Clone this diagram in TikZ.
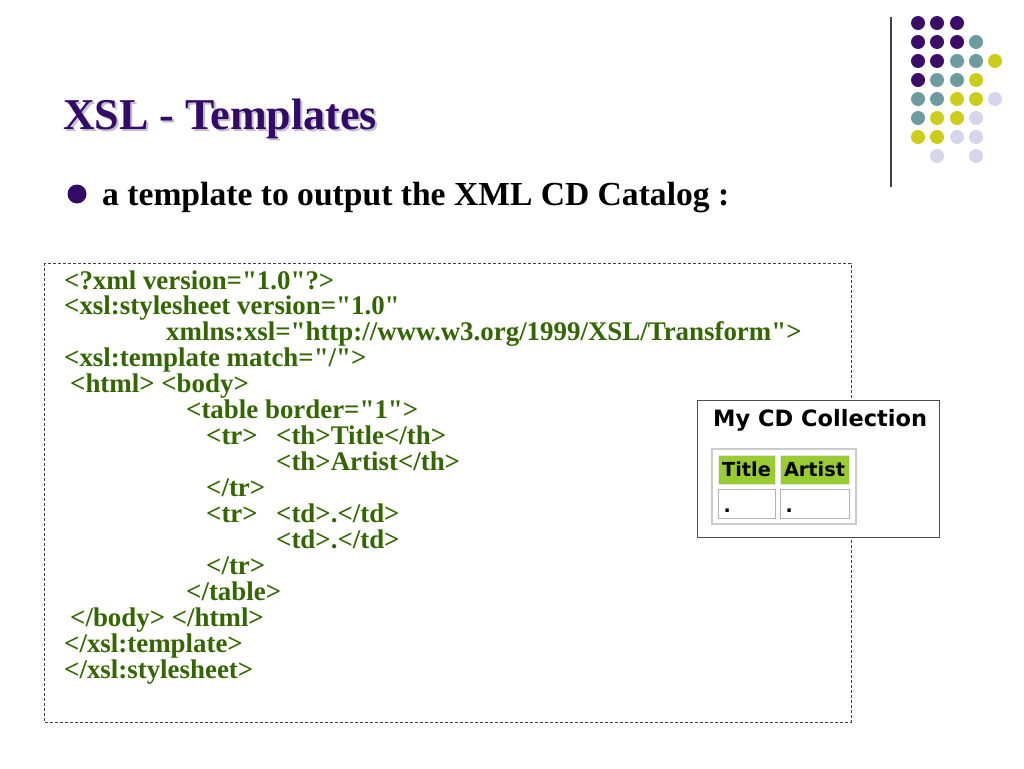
\documentclass[tikz,border=0pt]{standalone}
\usepackage{fontspec}
\setmainfont{Liberation Serif}[Ligatures=TeXOff]
\newfontfamily\shotfont{DejaVu Sans}

\definecolor{slidepurple}{RGB}{51,10,102}
\definecolor{codegreen}{RGB}{51,102,0}
\definecolor{dotpurple}{RGB}{60,12,105}
\definecolor{dotteal}{RGB}{108,156,160}
\definecolor{dotyellow}{RGB}{204,204,26}
\definecolor{dotlilac}{RGB}{214,214,234}
\definecolor{cellgreen}{RGB}{153,204,51}
\definecolor{shadowgray}{RGB}{190,190,205}

\tikzset{
  codeline/.style={anchor=base west, inner sep=0pt, text=codegreen,
    font=\fontsize{26.9}{26}\bfseries},
  titletext/.style={anchor=base west, inner sep=0pt,
    font=\fontsize{44}{48}\bfseries},
  dashbox/.style={draw=black!75, line width=0.8pt, dash pattern=on 3pt off 2pt},
  shotframe/.style={draw=black!70, fill=white, line width=1pt},
  headcell/.style={fill=cellgreen, draw=black!10, line width=1pt, inner sep=0pt,
    minimum width=#1, minimum height=29pt, text=black,
    font={\shotfont\bfseries\fontsize{19.3}{22}\selectfont}},
  datacell/.style={fill=white, draw=black!30, line width=1pt, inner sep=0pt,
    minimum width=#1, minimum height=29pt}
}

\begin{document}
\begin{tikzpicture}[x=1pt,y=-1pt]
\useasboundingbox (0,0) rectangle (1024,768);
\fill [white] (0,0) rectangle (1024,768);
% corner dots
\draw [black!75, line width=1.5pt] (891,17) -- (891,187);
\fill [dotpurple] (918,23) circle (7);
\fill [dotpurple] (937,23) circle (7);
\fill [dotpurple] (957,23) circle (7);
\fill [dotpurple] (918,42) circle (7);
\fill [dotpurple] (937,42) circle (7);
\fill [dotpurple] (957,42) circle (7);
\fill [dotteal] (976,42) circle (7);
\fill [dotpurple] (918,61) circle (7);
\fill [dotpurple] (937,61) circle (7);
\fill [dotteal] (957,61) circle (7);
\fill [dotteal] (976,61) circle (7);
\fill [dotyellow] (995,61) circle (7);
\fill [dotpurple] (918,80) circle (7);
\fill [dotteal] (937,80) circle (7);
\fill [dotteal] (957,80) circle (7);
\fill [dotyellow] (976,80) circle (7);
\fill [dotteal] (918,99) circle (7);
\fill [dotteal] (937,99) circle (7);
\fill [dotyellow] (957,99) circle (7);
\fill [dotyellow] (976,99) circle (7);
\fill [dotlilac] (995,99) circle (7);
\fill [dotteal] (918,118) circle (7);
\fill [dotyellow] (937,118) circle (7);
\fill [dotyellow] (957,118) circle (7);
\fill [dotlilac] (976,118) circle (7);
\fill [dotyellow] (918,137) circle (7);
\fill [dotyellow] (937,137) circle (7);
\fill [dotlilac] (957,137) circle (7);
\fill [dotlilac] (976,137) circle (7);
\fill [dotlilac] (937,156) circle (7);
\fill [dotlilac] (976,156) circle (7);
% title and bullet
\node [titletext, text=shadowgray] (titleshadow) at (65,131) {XSL - Templates};
\node [titletext, text=slidepurple] (title) at (63,129) {XSL - Templates};
\fill [slidepurple] (77,194) circle (9.5);
\node [anchor=base west, inner sep=0pt, font=\fontsize{33.6}{36}\bfseries] (bullet) at (102,205) {a template to output the XML CD Catalog :};
% code box
\draw [dashbox] (44,263) rectangle (851,722);
\node [codeline] (l1) at (64,289) {<?xml version="1.0"?>};
\node [codeline] (l2) at (64,314.9) {<xsl:stylesheet version="1.0"};
\node [codeline] (l3) at (166,340.9) {xmlns:xsl="http://www.w3.org/1999/XSL/Transform">};
\node [codeline] (l4) at (64,366.8) {<xsl:template match="/">};
\node [codeline] (l5) at (70,392.7) {<html> <body>};
\node [codeline] (l6) at (186,418.7) {<table border="1">};
\node [codeline] (l7a) at (206,444.6) {<tr>};
\node [codeline] (l7b) at (276,444.6) {<th>Title</th>};
\node [codeline] (l8) at (276,470.5) {<th>Artist</th>};
\node [codeline] (l9) at (206,496.4) {</tr>};
\node [codeline] (l10a) at (206,522.4) {<tr>};
\node [codeline] (l10b) at (276,522.4) {<td>.</td>};
\node [codeline] (l11) at (276,548.3) {<td>.</td>};
\node [codeline] (l12) at (206,574.2) {</tr>};
\node [codeline] (l13) at (186,600.2) {</table>};
\node [codeline] (l14) at (70,626.1) {</body> </html>};
\node [codeline] (l15) at (64,652) {</xsl:template>};
\node [codeline] (l16) at (64,678) {</xsl:stylesheet>};
% browser output
\draw [shotframe] (697,400) rectangle (939,537);
\node [anchor=base west, inner sep=0pt, font={\shotfont\bfseries\fontsize{22.5}{26}\selectfont}] (shottitle) at (713,426) {My CD Collection};
\draw [black!20, line width=2pt] (712,449) rectangle (856,524);
\node [headcell=57pt] (thtitle) at (746.5,469.5) {Title};
\node [headcell=69pt] (thartist) at (814.5,469.5) {Artist};
\node [datacell=57pt] (tdtitle) at (746.5,503.5) {};
\node [datacell=69pt] (tdartist) at (814.5,503.5) {};
\node [anchor=base west, inner sep=0pt, font={\shotfont\bfseries\fontsize{19}{22}\selectfont}] (dottitle) at ([xshift=6pt, yshift=6pt]tdtitle.south west) {.};
\node [anchor=base west, inner sep=0pt, font={\shotfont\bfseries\fontsize{19}{22}\selectfont}] (dotartist) at ([xshift=6pt, yshift=6pt]tdartist.south west) {.};
\end{tikzpicture}
\end{document}
